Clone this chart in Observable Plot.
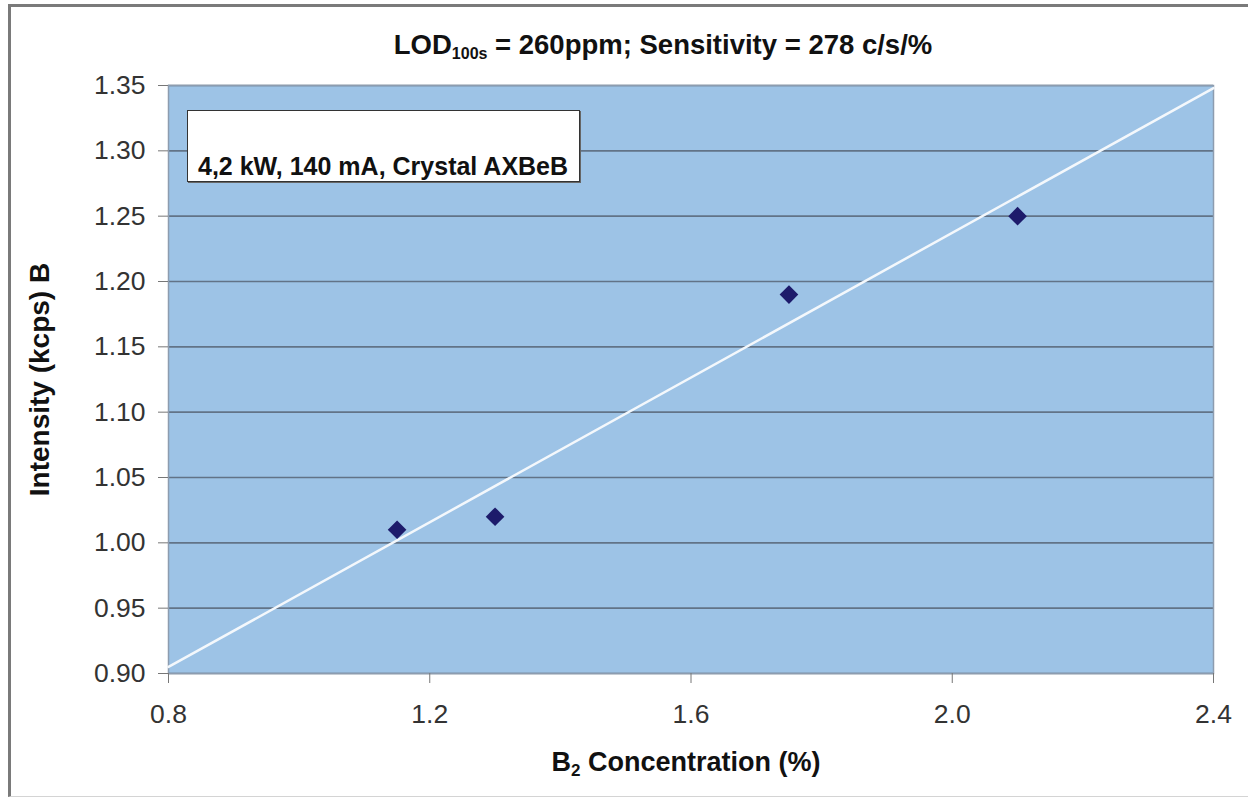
<!DOCTYPE html>
<html>
<head>
<meta charset="utf-8">
<script src="https://cdn.jsdelivr.net/npm/d3@7"></script>
<script src="https://cdn.jsdelivr.net/npm/@observablehq/plot@0.6"></script>
<style>
  body { margin: 0; background: #fff; font-family: "Liberation Sans", Arial, sans-serif; }
  #wrap { position: relative; width: 1248px; height: 799px; overflow: hidden; }
  #frame { position: absolute; left: 8px; top: 4px; width: 1300px; height: 789px;
           border-left: 3px solid #7a7a7a; border-top: 3px solid #7a7a7a; border-bottom: 1px solid #d4d4d4; }
  #title { position: absolute; top: 29px; left: 0; width: 1326px; text-align: center;
           font-weight: bold; font-size: 27.5px; color: #111; }
  #title sub { font-size: 16px; vertical-align: -5px; line-height: 0; }
  #xlabel { position: absolute; top: 747px; left: 0; width: 1372px; text-align: center;
            font-weight: bold; font-size: 27px; color: #111; }
  #xlabel sub { font-size: 17px; vertical-align: -5px; line-height: 0; }
  #note { position: absolute; left: 187px; top: 110px; width: 393px; height: 72px; background: #fff;
          border: 1.5px solid #333; box-shadow: 1px 1px 0 #666; box-sizing: border-box; }
  #note span { position: absolute; left: 10px; top: 43px; font-weight: bold; font-size: 25px; color: #111; line-height: 1; }
  #chart { position: absolute; left: 0; top: 0; }
</style>
</head>
<body>
<div id="wrap">
  <div id="frame"></div>
  <div id="chart"></div>
  <div id="title"></div>
  <div id="xlabel"></div>
  <div id="note"><span></span></div>
</div>
<script>
// ---- data ----
const concentration = [1.15, 1.30, 1.75, 2.10];
const intensity = [1.01, 1.02, 1.19, 1.25];
const trendX = [0.8, 2.4];
const trendY = [0.905, 1.348];
const xTicks = [0.8, 1.2, 1.6, 2.0, 2.4];
const yTicks = [0.90, 0.95, 1.00, 1.05, 1.10, 1.15, 1.20, 1.25, 1.30, 1.35];
const titleMain = "LOD";
const titleSub = "100s";
const titleRest = " = 260ppm; Sensitivity = 278 c/s/%";
const xLabelMain = "B";
const xLabelSub = "2";
const xLabelRest = " Concentration (%)";
const yLabel = "Intensity (kcps) B";
const noteText = "4,2 kW, 140 mA, Crystal AXBeB";

const points = concentration.map((c, i) => ({c, v: intensity[i]}));
const trend = trendX.map((x, i) => ({x, y: trendY[i]}));

const chart = Plot.plot({
  width: 1248,
  height: 799,
  marginLeft: 168,
  marginRight: 35,
  marginTop: 85,
  marginBottom: 126,
  style: { background: "transparent", fontFamily: "'Liberation Sans', Arial, sans-serif", fontSize: "26.5px", color: "#333" },
  x: { domain: [0.8, 2.4], label: null },
  y: { domain: [0.9, 1.35], label: null },
  marks: [
    Plot.frame({ fill: "#9dc3e6", stroke: "none" }),
    Plot.ruleY(yTicks, { stroke: "#627387", strokeWidth: 1.6 }),
    Plot.frame({ stroke: "#8d9caf", strokeWidth: 1.5 }),
    Plot.line(trend, { x: "x", y: "y", stroke: "#f4f8fc", strokeWidth: 2.5 }),
    Plot.dot(points, { x: "c", y: "v", symbol: "diamond2", r: 8.4, fill: "#1d1b6b", stroke: "none" }),
    Plot.axisX({ ticks: xTicks, tickFormat: d3.format(".1f"), tickSize: 10, tickPadding: 21, stroke: "#777", fill: "#333", label: null }),
    Plot.axisY({ ticks: yTicks, tickFormat: d3.format(".2f"), tickSize: 10, tickPadding: 13, stroke: "#777", fill: "#333", label: null }),
    Plot.text([yLabel], { frameAnchor: "left", textAnchor: "middle", rotate: -90, dx: -128, fontWeight: "bold", fontSize: 28, fill: "#111" })
  ]
});
document.getElementById("chart").appendChild(chart);

const t = document.getElementById("title");
t.append(titleMain);
const s1 = document.createElement("sub"); s1.textContent = titleSub; t.append(s1);
t.append(titleRest);

const xl = document.getElementById("xlabel");
xl.append(xLabelMain);
const s2 = document.createElement("sub"); s2.textContent = xLabelSub; xl.append(s2);
xl.append(xLabelRest);

document.querySelector("#note span").textContent = noteText;
</script>
</body>
</html>
